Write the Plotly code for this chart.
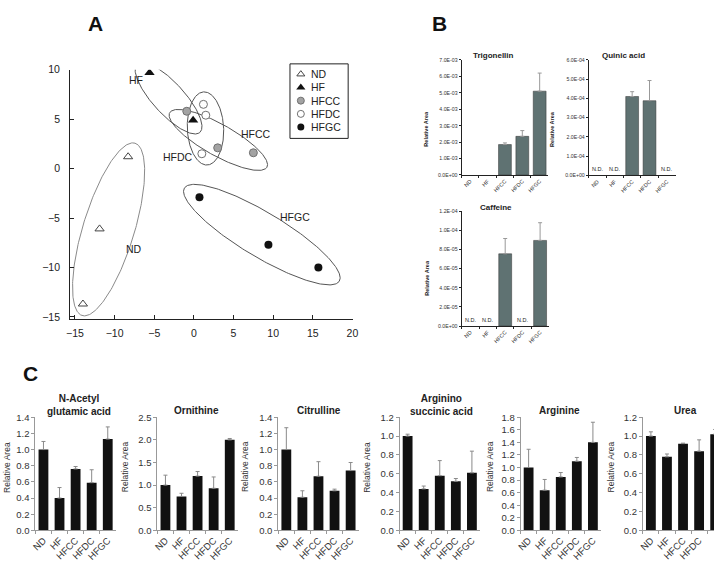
import numpy as np
import plotly.graph_objects as go

W, H = 719, 570
FONT = "Liberation Sans, Arial, sans-serif"

groups = ["ND", "HF", "HFCC", "HFDC", "HFGC"]

# ---------------- Panel A : PCA score plot ----------------
score_x = {"ND": [-8.3, -11.9, -14.0], "HF": [-5.6, -0.1], "HFCC": [-0.9, 3.0, 7.5],
           "HFDC": [1.2, 1.5, 1.0], "HFGC": [0.7, 9.4, 15.7]}
score_y = {"ND": [1.2, -6.1, -13.7], "HF": [9.7, 4.9], "HFCC": [5.8, 2.1, 1.6],
           "HFDC": [6.5, 5.4, 1.5], "HFGC": [-2.9, -7.7, -10.0]}
group_label_x = {"ND": -7.5, "HF": -7.3, "HFCC": 7.8, "HFDC": -2.0, "HFGC": 12.7}
group_label_y = {"ND": -8.1, "HF": 9.0, "HFCC": 3.5, "HFDC": 1.2, "HFGC": -4.9}
# confidence ellipses: centre, semi-axis vector u, conjugate semi-axis vector v
ell_center = {"ND": (-10.76, -6.15), "HF": (-3.2, 7.13), "HFDC": (1.46, 4.06),
              "HFCC": (3.08, 2.9), "HFGC": (8.57, -6.68)}
ell_u = {"ND": (3.33, 8.72), "HF": (3.95, -3.47), "HFDC": (-0.21, 3.70),
         "HFCC": (6.13, -2.76), "HFGC": (9.77, -4.71)}
ell_v = {"ND": (3.10, -0.75), "HF": (1.48, 1.06), "HFDC": (2.29, 0.07),
         "HFCC": (0.98, 1.38), "HFGC": (1.46, 1.92)}

# ---------------- Panel B ----------------
trig_mean = [None, None, 1.85e-3, 2.35e-3, 5.10e-3]
trig_err = [0, 0, 0.10e-3, 0.35e-3, 1.10e-3]
trig_tickvals = [0, 1e-3, 2e-3, 3e-3, 4e-3, 5e-3, 6e-3, 7e-3]
trig_ticktext = ["0.0E+00", "1.0E-03", "2.0E-03", "3.0E-03", "4.0E-03", "5.0E-03", "6.0E-03", "7.0E-03"]
trig_nd = []

quin_mean = [None, None, 4.10e-4, 3.88e-4, None]
quin_err = [0, 0, 0.25e-4, 1.05e-4, 0]
quin_tickvals = [0, 1e-4, 2e-4, 3e-4, 4e-4, 5e-4, 6e-4]
quin_ticktext = ["0.0E+00", "1.0E-04", "2.0E-04", "3.0E-04", "4.0E-04", "5.0E-04", "6.0E-04"]
quin_nd = ["ND", "HF", "HFGC"]

caf_mean = [None, None, 7.55e-5, None, 8.95e-5]
caf_err = [0, 0, 1.6e-5, 0, 1.85e-5]
caf_tickvals = [0, 2e-5, 4e-5, 6e-5, 8e-5, 1e-4, 1.2e-4]
caf_ticktext = ["0.0E+00", "2.0E-05", "4.0E-05", "6.0E-05", "8.0E-05", "1.0E-04", "1.2E-04"]
caf_nd = ["ND", "HF", "HFDC"]

# ---------------- Panel C ----------------
nag_mean = [1.00, 0.40, 0.76, 0.59, 1.13]
nag_err = [0.10, 0.13, 0.03, 0.16, 0.15]
orn_mean = [1.00, 0.75, 1.20, 0.93, 2.00]
orn_err = [0.22, 0.07, 0.10, 0.25, 0.03]
cit_mean = [1.00, 0.41, 0.67, 0.49, 0.74]
cit_err = [0.27, 0.08, 0.18, 0.02, 0.10]
asa_mean = [1.00, 0.44, 0.58, 0.52, 0.61]
asa_err = [0.02, 0.03, 0.16, 0.03, 0.23]
arg_mean = [1.00, 0.64, 0.85, 1.10, 1.40]
arg_err = [0.29, 0.17, 0.07, 0.06, 0.32]
urea_mean = [1.00, 0.78, 0.92, 0.84, 1.02]
urea_err = [0.045, 0.03, 0.005, 0.12, 0.05]

c_titles = ["N-Acetyl<br>glutamic acid", "Ornithine", "Citrulline",
            "Arginino<br>succinic acid", "Arginine", "Urea"]
c_means = [nag_mean, orn_mean, cit_mean, asa_mean, arg_mean, urea_mean]
c_errs = [nag_err, orn_err, cit_err, asa_err, arg_err, urea_err]
c_ymax = [1.4, 2.5, 1.4, 1.2, 1.8, 1.2]
c_dtick = [0.2, 0.5, 0.2, 0.2, 0.2, 0.2]

# ---------------- layout helpers ----------------
def PX(p):
    return p / W

def PY(p):
    return 1 - p / H

def names(i):
    return ("x" if i == 1 else f"x{i}", "y" if i == 1 else f"y{i}")

def akey(kind, i):
    return f"{kind}axis" if i == 1 else f"{kind}axis{i}"

def paper_text(x, y, text, size, color="#222", angle=0, xanchor="center"):
    return dict(x=PX(x), y=PY(y), xref="paper", yref="paper", text=text, showarrow=False,
                xanchor=xanchor, yanchor="middle", textangle=angle,
                font=dict(size=size, color=color))

fig = go.Figure()
layout = {}
annotations = []
shapes = []

# ---- Panel A ----
xa, ya = names(1)
layout[akey("x", 1)] = dict(domain=[PX(66), PX(353)], range=[-15.62, 20.08], showline=True,
                            linecolor="#222", linewidth=1, ticks="inside", ticklen=4, tickcolor="#222",
                            tickvals=[-15, -10, -5, 0, 5, 10, 15, 20], showgrid=False, zeroline=False,
                            ticklabelstandoff=5,
                            tickfont=dict(size=10.5, color="#222"), anchor=ya)
layout[akey("y", 1)] = dict(domain=[PY(319), PY(65)], range=[-15.2, 10], showline=True,
                            linecolor="#222", linewidth=1, ticks="inside", ticklen=4, tickcolor="#222",
                            tickvals=[-15, -10, -5, 0, 5, 10], showgrid=False, zeroline=False,
                            ticklabelstandoff=7,
                            tickfont=dict(size=10.5, color="#222"), anchor=xa)

ell_color = {"ND": "#8a8a8a", "HF": "#555", "HFDC": "#555", "HFCC": "#555", "HFGC": "#555"}
t = np.linspace(0, 2 * np.pi, 241)
for g in ["ND", "HF", "HFDC", "HFCC", "HFGC"]:
    cx, cy = ell_center[g]
    ux, uy = ell_u[g]
    vx, vy = ell_v[g]
    fig.add_trace(go.Scatter(x=cx + ux * np.cos(t) + vx * np.sin(t),
                             y=cy + uy * np.cos(t) + vy * np.sin(t),
                             mode="lines", line=dict(color=ell_color[g], width=1),
                             hoverinfo="skip", showlegend=False, xaxis=xa, yaxis=ya))

marker_style = {
    "ND": dict(symbol="triangle-up-open", color="#444", size=8, line=dict(width=1, color="#444")),
    "HF": dict(symbol="triangle-up", color="#111", size=9, line=dict(width=0)),
    "HFCC": dict(symbol="circle", color="#a3a3a3", size=8, line=dict(width=1, color="#707070")),
    "HFDC": dict(symbol="circle", color="#ffffff", size=8, line=dict(width=1, color="#707070")),
    "HFGC": dict(symbol="circle", color="#111", size=8, line=dict(width=0)),
}
for g in groups:
    fig.add_trace(go.Scatter(x=score_x[g], y=score_y[g], mode="markers", marker=marker_style[g],
                             showlegend=False, xaxis=xa, yaxis=ya))
    annotations.append(dict(x=group_label_x[g], y=group_label_y[g], xref=xa, yref=ya, text=g,
                            showarrow=False, xanchor="center", yanchor="middle",
                            font=dict(size=10.5, color="#222")))

# custom legend box
lx, ly = names(2)
layout[akey("x", 2)] = dict(domain=[PX(289), PX(348)], range=[0, 1], visible=False, anchor=ly)
layout[akey("y", 2)] = dict(domain=[PY(135), PY(59)], range=[0, 1], visible=False, anchor=lx)
shapes.append(dict(type="rect", xref="paper", yref="paper", x0=PX(289), x1=PX(348), y0=PY(135), y1=PY(59),
                   line=dict(color="#222", width=1)))
leg_rows = [69.5, 83, 96.5, 110, 123.5]
for g, row in zip(groups, leg_rows):
    ms = dict(marker_style[g])
    ms["size"] = ms["size"] - 1
    fig.add_trace(go.Scatter(x=[(300 - 289) / 59], y=[(135 - row) / 76], mode="markers", marker=ms,
                             showlegend=False, xaxis=lx, yaxis=ly, hoverinfo="skip"))
    annotations.append(paper_text(308, row, g, 10.5, xanchor="left"))

# ---- Panel B ----
B_COLOR = "#5f7272"
b_specs = [
    (3, "Trigonellin", trig_mean, trig_err, trig_tickvals, trig_ticktext, trig_nd, (463, 551), (55, 172.3),
     (495, 50.5), (427, 125)),
    (4, "Quinic acid", quin_mean, quin_err, quin_tickvals, quin_ticktext, quin_nd, (592, 680), (55, 172.7),
     (627, 50.5), (554, 125)),
    (5, "Caffeine", caf_mean, caf_err, caf_tickvals, caf_ticktext, caf_nd, (463, 551.5), (209.3, 326.3),
     (498, 205), (428, 277)),
]
for i, title, mean, err, tv, tt, nd, (x0, x1), (y0, y1), (tx, ty), (lxp, lyp) in b_specs:
    xa, ya = names(i)
    layout[akey("x", i)] = dict(domain=[PX(x0), PX(x1)], range=[-0.5, 4.5], type="category",
                                categoryorder="array", categoryarray=groups,
                                showline=True, linecolor="#222", linewidth=1, ticks="outside",
                                tickson="boundaries", ticklen=2, tickcolor="#222", tickangle=-45,
                                tickfont=dict(size=5.5, color="#333"), showgrid=False, anchor=ya)
    layout[akey("y", i)] = dict(domain=[PY(y1), PY(y0)], range=[0, tv[-1]], tickvals=tv, ticktext=tt,
                                showline=True, linecolor="#222", linewidth=1, ticks="outside", ticklen=2,
                                tickcolor="#222", tickfont=dict(size=5.2, color="#333"), showgrid=False,
                                zeroline=False, anchor=xa)
    fig.add_trace(go.Bar(x=groups, y=mean, width=0.74, marker=dict(color=B_COLOR, line=dict(width=0.5, color="#333")),
                         error_y=dict(type="data", array=err, arrayminus=[0] * 5, symmetric=False,
                                      color="#999", thickness=1, width=2),
                         showlegend=False, xaxis=xa, yaxis=ya))
    for g in nd:
        annotations.append(dict(x=g, y=0, xref=xa, yref=ya, text="N.D.", showarrow=False, yanchor="bottom",
                                xanchor="center", yshift=1, font=dict(size=5.5, color="#222")))
    annotations.append(paper_text(tx, ty, f"<b>{title}</b>", 8))
    annotations.append(paper_text(lxp, lyp, "<b>Relative Area</b>", 5.5, angle=-90))

# ---- Panel C ----
c_first_center = [39.0, 162.7, 285.3, 408.3, 531.0, 655.0]
c_step = 16.3
c_label_x = [2, 122, 243.5, 367, 492, 614]
c_title_x = [75, 194, 318, 443, 562, 690]
for k in range(6):
    i = 6 + k
    xa, ya = names(i)
    x0 = c_first_center[k] - c_step / 2
    x1 = x0 + 5 * c_step
    rmax = 4.5
    if x1 > W:
        rmax = 4.5 - (x1 - W) / c_step
        x1 = W
    layout[akey("x", i)] = dict(domain=[PX(x0), PX(x1)], range=[-0.5, rmax], type="category",
                                categoryorder="array", categoryarray=groups,
                                showline=True, linecolor="#999", linewidth=1, ticks="outside",
                                tickson="boundaries", ticklen=3, tickcolor="#999", tickangle=-45,
                                tickfont=dict(size=9.5, color="#333"), showgrid=False, anchor=ya)
    layout[akey("y", i)] = dict(domain=[PY(534.7), PY(419.3)], range=[0, c_ymax[k] * 1.0001],
                                dtick=c_dtick[k], tick0=0, tickformat=".1f",
                                showline=True, linecolor="#999", linewidth=1, ticks="outside", ticklen=3,
                                tickcolor="#999", tickfont=dict(size=9.5, color="#333"), showgrid=False,
                                zeroline=False, anchor=xa)
    fig.add_trace(go.Bar(x=groups, y=c_means[k], width=0.61, marker=dict(color="#111", line=dict(width=0)),
                         error_y=dict(type="data", array=c_errs[k], arrayminus=[0] * 5, symmetric=False,
                                      color="#8a8a8a", thickness=1, width=2),
                         showlegend=False, xaxis=xa, yaxis=ya))
    ty = 407 if "<br>" in c_titles[k] else 412.5
    annotations.append(paper_text(c_title_x[k], ty, f"<b>{c_titles[k]}</b>", 10))
    annotations.append(paper_text(c_label_x[k], 470, "Relative Area", 8.5, color="#333", angle=-90))

# panel letters
for letter, (x, y) in {"A": (92, 18), "B": (440.5, 17.5), "C": (25.5, 374.5)}.items():
    annotations.append(paper_text(x, y, f"<b>{letter}</b>", 21, color="#111"))

fig.update_layout(width=W, height=H, margin=dict(l=0, r=0, t=0, b=0), paper_bgcolor="white",
                  plot_bgcolor="rgba(0,0,0,0)", font=dict(family=FONT), showlegend=False,
                  annotations=annotations, shapes=shapes, bargap=0.3, **layout)
fig.write_html("out.html")
